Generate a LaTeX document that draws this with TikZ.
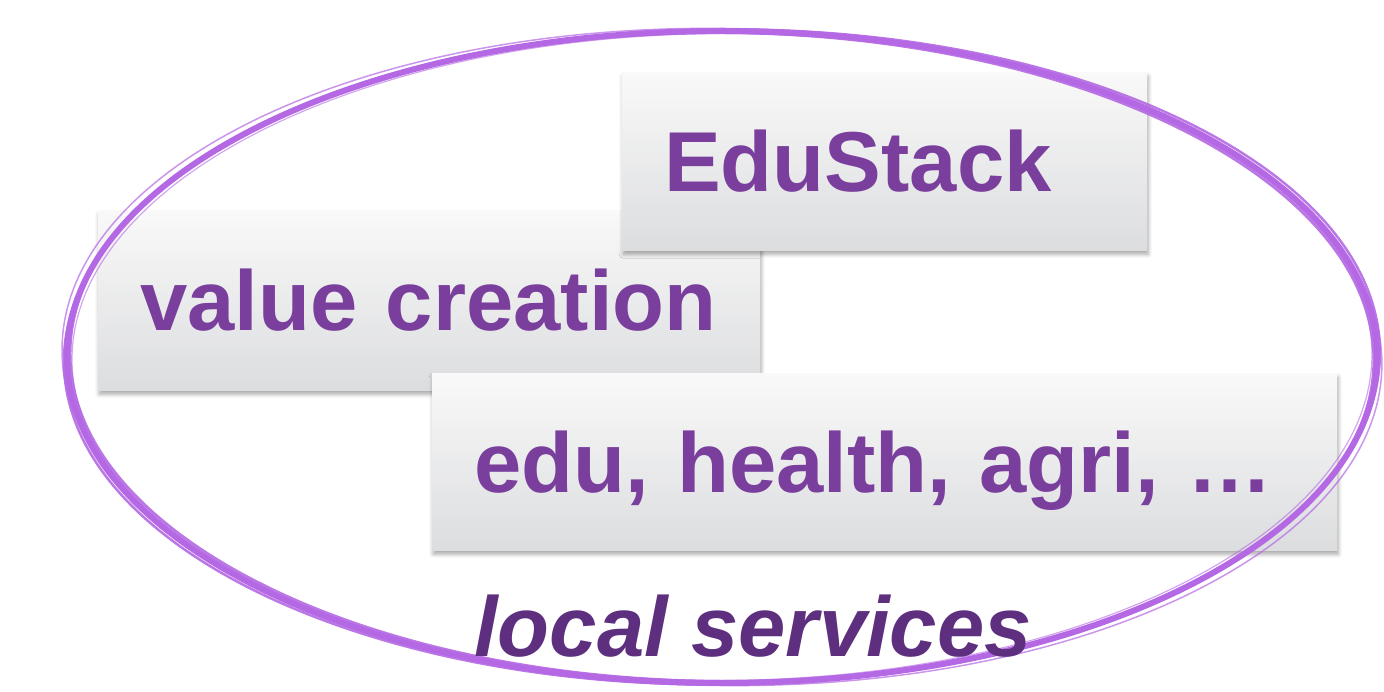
\documentclass[tikz,border=0pt]{standalone}
\usepackage{fontspec}
\setmainfont{Liberation Sans}
\definecolor{StackPurple}{HTML}{7A3E9C}
\definecolor{StackDeep}{HTML}{5F2F7F}
\definecolor{StackBrush}{HTML}{B468E3}
\definecolor{StackTop}{HTML}{F9F9F9}
\definecolor{StackBottom}{HTML}{DCDDDF}
\usetikzlibrary{shadows.blur}
\tikzset{
  card/.style={anchor=north west, top color=StackTop, bottom color=StackBottom, draw=none, inner xsep=42pt, inner ysep=0pt, align=left, font=\bfseries\fontsize{85}{90}\selectfont, text=StackPurple, text height=61pt, text depth=0pt, blur shadow={shadow xshift=1pt, shadow yshift=-4pt, shadow blur radius=4pt, shadow opacity=35}},
  brush/.style={draw=StackBrush, line cap=round},
  caption/.style={font=\bfseries\itshape\fontsize{85}{90}\selectfont, text=StackDeep, inner sep=0pt}
}
\begin{document}
\begin{tikzpicture}[x=1pt, y=-1pt]
    \useasboundingbox (0,0) rectangle (1384,692);
    \node[card, text width=578pt, minimum height=180pt] (value) at (98,210) {value creation};
    \node[card, text width=441pt, minimum height=178pt] (edustack) at (622,72) {EduStack};
    \node[card, text width=821pt, minimum height=177pt] (sectors) at (432,373) {edu, health, agri, …};
    % hand drawn ring round the services
    \coordinate (ringc) at (722,357);
    \foreach \dr/\rot/\w/\op in {0/0/6/1, 3/0.5/2.5/0.9, -3/-0.4/3/0.9, 5/-0.8/1.5/0.7, -5/0.3/1.2/0.6}
      \draw[brush, line width=\w pt, opacity=\op, rotate around={\rot:(ringc)}] (ringc) ellipse [x radius=655+\dr, y radius=326+\dr/2];
    \node[caption, anchor=base west] (local) at (474,656) {local services};
\end{tikzpicture}
\end{document}
